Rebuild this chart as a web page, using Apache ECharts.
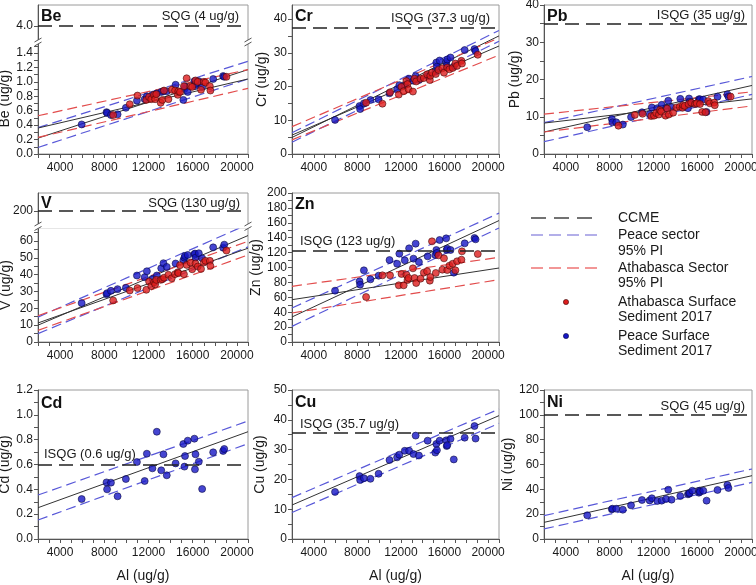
<!DOCTYPE html>
<html><head><meta charset="utf-8">
<script src="https://cdn.jsdelivr.net/npm/echarts@6/dist/echarts.min.js"></script>
<style>html,body{margin:0;padding:0;background:#fff}#c{width:756px;height:585px}</style>
</head><body><div id="c"></div>
<script>
// ---------------- data ----------------
const peaceAl = [5950, 8200, 8250, 8600, 9200, 9950, 10950, 11650, 11850, 12350, 12750, 13150, 13350, 13650, 14450, 15150, 15250, 15300, 15550, 16150, 16200, 16250, 16550, 16850, 17850, 18750, 18850];
const athaAl = [8800, 10300, 11000, 11800, 12050, 12250, 12500, 12600, 12700, 13100, 13250, 13400, 13800, 14100, 14400, 14650, 14700, 14850, 15200, 15450, 15800, 15950, 16250, 16450, 16750, 17000, 17150, 17550, 17600, 19050];

const peaceBe = [0.41, 0.58, 0.57, 0.54, 0.55, 0.64, 0.74, 0.76, 0.80, 0.82, 0.84, 0.86, 0.87, 0.87, 0.96, 0.75, 0.90, 0.94, 0.86, 1.01, 0.94, 0.97, 1.01, 0.93, 1.04, 1.08, 1.07];
const athaBe = [0.54, 0.69, 0.81, 0.75, 0.79, 0.76, 0.82, 0.76, 0.83, 0.71, 0.75, 0.88, 0.76, 0.89, 0.88, 0.82, 0.87, 0.86, 0.94, 1.05, 0.94, 0.93, 1.02, 1.00, 0.89, 1.00, 0.99, 0.94, 0.88, 1.07];
const peaceCr = [10.1, 14.2, 13.3, 15.0, 16.0, 16.2, 18.0, 19.2, 20.4, 20.4, 22.3, 21.7, 23.1, 21.9, 23.1, 24.4, 27.1, 25.9, 27.7, 27.3, 26.1, 28.0, 28.6, 25.9, 30.8, 31.1, 30.5];
const athaCr = [15.2, 14.9, 18.3, 17.6, 19.9, 18.6, 21.6, 20.7, 19.2, 18.5, 22.3, 21.5, 22.3, 22.5, 23.6, 21.9, 23.2, 24.1, 23.7, 24.9, 25.4, 24.1, 25.6, 25.1, 25.5, 26.8, 26.1, 27.6, 26.8, 29.4];
const peacePb = [7.2, 9.4, 8.5, 8.5, 7.9, 9.9, 11.2, 10.7, 12.5, 12.3, 13.2, 12.3, 14.3, 12.5, 14.8, 12.3, 14.9, 14.0, 13.6, 14.7, 14.3, 14.7, 14.6, 11.3, 15.4, 16.0, 15.4];
const athaPb = [7.6, 10.5, 10.8, 10.2, 10.3, 11.0, 10.6, 11.8, 11.4, 10.3, 12.2, 10.6, 11.1, 12.5, 12.7, 12.4, 13.1, 12.9, 13.4, 13.8, 13.4, 13.6, 13.4, 11.3, 11.2, 14.2, 13.6, 13.8, 13.1, 15.4];
const peaceV = [23.1, 28.4, 29.0, 30.4, 31.4, 32.2, 39.5, 38.5, 42.0, 37.5, 39.5, 43.8, 46.8, 44.6, 46.6, 48.5, 50.1, 51.1, 51.7, 52.1, 52.5, 50.1, 52.7, 49.7, 56.2, 56.0, 57.8];
const athaV = [24.7, 30.6, 32.0, 31.0, 35.9, 33.2, 35.5, 34.3, 36.9, 36.9, 37.3, 38.2, 39.9, 37.9, 40.3, 41.4, 40.9, 45.6, 40.3, 45.8, 47.2, 43.2, 46.6, 44.8, 43.4, 47.2, 48.2, 48.2, 45.2, 54.3];
const peaceZn = [68.9, 81.4, 77.0, 96.2, 84.1, 89.0, 110, 105, 118.6, 109.6, 125.7, 111.9, 132, 107.4, 115, 116.8, 123.5, 119.5, 136.9, 139.1, 123.5, 125.3, 123.5, 93.1, 132.4, 139.6, 137.8];
const athaZn = [60.4, 89.5, 89.5, 76.1, 91.3, 76.1, 90.4, 83.2, 85.9, 98.9, 85.9, 79.2, 85.0, 93.1, 94.9, 82.3, 87.2, 135.1, 92.6, 116.3, 97.1, 112.3, 96.6, 102.5, 105.0, 96.2, 108.3, 110.5, 121.7, 118.1];
const peaceCd = [0.322, 0.456, 0.40, 0.454, 0.344, 0.483, 0.62, 0.467, 0.687, 0.569, 0.864, 0.553, 0.682, 0.513, 0.609, 0.765, 0.583, 0.668, 0.792, 0.808, 0.561, 0.682, 0.623, 0.403, 0.698, 0.709, 0.725];
const peaceCu = [15.8, 21.1, 19.8, 20.4, 20.2, 21.9, 26.5, 27.4, 28.3, 29.6, 29.6, 28.5, 34.7, 28.0, 33.0, 29.0, 31.9, 29.8, 33.0, 33.1, 31.2, 31.5, 33.6, 26.7, 34.0, 37.9, 33.7];
const peaceNi = [19.1, 23.9, 24.4, 24.4, 23.6, 27.1, 31.4, 31.1, 32.8, 30.6, 30.9, 32.2, 39.7, 31.7, 34.6, 36.0, 36.5, 37.0, 38.9, 37.3, 38.9, 38.0, 38.9, 30.9, 39.5, 43.5, 41.1];

// fitted lines: values at x = 2000 and x = 21000
// order: Peace fit, Peace PI upper, Peace PI lower, Athabasca fit, Athabasca PI upper, Athabasca PI lower
const xEnds = [2000, 21000];
const beLines = [[0.22, 1.17], [0.365, 1.285], [0.09, 1.04], [0.36, 1.04], [0.53, 1.17], [0.23, 0.91]];
const crLines = [[4.9, 35.0], [6.3, 36.6], [3.5, 33.4], [5.6, 32.0], [8.1, 34.4], [4.2, 29.3]];
const pbLines = [[5.9, 18.4], [8.4, 20.8], [3.3, 16.0], [8.3, 14.8], [10.7, 16.7], [5.9, 12.9]];
const vLines = [[10.0, 63.2], [14.8, 69.9], [5.0, 56.5], [11.3, 55.7], [15.6, 59.8], [6.9, 51.7]];
const znLines = [[33.6, 163], [45.6, 173], [21, 153], [56.8, 99.3], [74.7, 113.6], [38.9, 83.7]];
const cdLines = [[0.252, 0.864], [0.354, 0.95], [0.153, 0.768]];
const cuLines = [[11.4, 41.4], [13.9, 43.6], [8.9, 38.8]];
const niLines = [[13.4, 51.0], [18.8, 56.4], [8.1, 45.6]];

// guideline values (as drawn) and their labels
const guideValues = [4.0, 37.3, 35, 200, 123, 0.6, 35.7, 100];
const guideTexts = ['SQG (4 ug/g)', 'ISQG (37.3 ug/g)', 'ISQG (35 ug/g)', 'SQG (130 ug/g)', 'ISQG (123 ug/g)', 'ISQG (0.6 ug/g)', 'ISQG (35.7 ug/g)', 'SQG (45 ug/g)'];
const panelNames = ['Be', 'Cr', 'Pb', 'V', 'Zn', 'Cd', 'Cu', 'Ni'];

// tick labels
const xTickLabels = [4000, 8000, 12000, 16000, 20000];
const xTicks = [2000, 3000, 4000, 5000, 6000, 7000, 8000, 9000, 10000, 11000, 12000, 13000, 14000, 15000, 16000, 17000, 18000, 19000, 20000, 21000];
const beYLabels = [0, 0.2, 0.4, 0.6, 0.8, 1.0, 1.2, 1.4];
const beUpperLabels = [4.0];
const crYLabels = [0, 10, 20, 30, 40];
const pbYLabels = [0, 10, 20, 30, 40];
const vYLabels = [0, 10, 20, 30, 40, 50, 60];
const vUpperLabels = [200];
const znYLabels = [0, 20, 40, 60, 80, 100, 120, 140, 160, 180, 200];
const cdYLabels = [0, 0.2, 0.4, 0.6, 0.8, 1.0, 1.2];
const cuYLabels = [0, 10, 20, 30, 40, 50];
const niYLabels = [0, 20, 40, 60, 80, 100, 120];

const legendItems = ['CCME', 'Peace sector', '95% PI', 'Athabasca Sector', '95% PI', 'Athabasca Surface', 'Sediment 2017', 'Peace Surface', 'Sediment 2017'];

// ---------------- layout / style ----------------
const FONT = "'Liberation Sans', Arial, Helvetica, sans-serif";
const BLUE_PT = '#1616c6', BLUE_BD = '#06063a';
const RED_PT = '#dd1d1d', RED_BD = '#3a0606';
const BLUE_LN = '#5858d8', RED_LN = '#e24c4c', BLACK_LN = '#333333';
const AXIS_C = '#555', FRAME_C = '#9a9a9a', TEXT_C = '#1a1a1a';

const panels = [
  {i:0, left:38, top:43.5, width:210, height:110.5, yMin:0, yMax:1.532, yLabels:beYLabels, dec:1, peace:peaceBe, atha:athaBe, lines:beLines, side:'end', dv:3.5, inset:9, nameGap:25, title:[41,9], xName:false,
   brk:{top:5, height:35.5, min:3.7, max:4.434, labels:beUpperLabels, dec:1}},
  {i:1, left:292, top:5, width:207, height:149, yMin:0, yMax:44.15, yLabels:crYLabels, dec:0, peace:peaceCr, atha:athaCr, lines:crLines, side:'end', dv:3.5, inset:9, nameGap:23, title:[295,9], xName:false},
  {i:2, left:544, top:5, width:208, height:149, yMin:0, yMax:40, yLabels:pbYLabels, dec:0, peace:peacePb, atha:athaPb, lines:pbLines, side:'end', dv:2, inset:7, nameGap:22, title:[547,9], xName:false},
  {i:3, left:38, top:228, width:210, height:114, yMin:0, yMax:67.7, yLabels:vYLabels, dec:0, peace:peaceV, atha:athaV, lines:vLines, side:'end', dv:1.5, inset:8, nameGap:25, title:[41,196], xName:false,
   brk:{top:193, height:31.5, min:170, max:240, labels:vUpperLabels, dec:0}},
  {i:4, left:292, top:193, width:207, height:149, yMin:0, yMax:200, yLabels:znYLabels, dec:0, peace:peaceZn, atha:athaZn, lines:znLines, side:'start', dv:2, inset:8, nameGap:25, title:[295,197], xName:false},
  {i:5, left:38, top:390, width:210, height:149, yMin:0, yMax:1.2, yLabels:cdYLabels, dec:1, peace:peaceCd, atha:null, lines:cdLines, side:'start', dv:3.5, inset:6, nameGap:20, title:[41,396], xName:true},
  {i:6, left:292, top:390, width:207, height:149, yMin:0, yMax:50, yLabels:cuYLabels, dec:0, peace:peaceCu, atha:null, lines:cuLines, side:'start', dv:2, inset:8, nameGap:25, title:[295,395], xName:true},
  {i:7, left:544, top:390, width:208, height:149, yMin:0, yMax:120, yLabels:niYLabels, dec:0, peace:peaceNi, atha:null, lines:niLines, side:'end', dv:1.5, inset:7, nameGap:25, title:[547,395], xName:true}
];

function halfTicks(labels, max) {
  const t = [];
  for (let k = 0; k < labels.length; k++) {
    t.push(labels[k]);
    const step = k + 1 < labels.length ? labels[k + 1] - labels[k] : labels[k] - labels[k - 1];
    const mid = labels[k] + step / 2;
    if (mid < max) t.push(mid);
  }
  return t;
}

const grids = [], xAxes = [], yAxes = [], series = [], titles = [];

function addAxes(gridOpt, xOpt, yOpt) {
  const gi = grids.length;
  grids.push(Object.assign({show:true, borderColor:FRAME_C, borderWidth:1, backgroundColor:'transparent', containLabel:false, outerBoundsMode:'none'}, gridOpt));
  xAxes.push(Object.assign({gridIndex:gi}, xOpt));
  yAxes.push(Object.assign({gridIndex:gi}, yOpt));
  return gi;
}

function xAxisOpt(showName) {
  return {
    type:'value', min:xEnds[0], max:xEnds[1],
    splitLine:{show:false},
    axisLine:{show:true, lineStyle:{color:AXIS_C, width:1}},
    axisTick:{show:true, length:4, inside:false, customValues:xTicks, lineStyle:{color:AXIS_C}},
    axisLabel:{show:true, customValues:xTickLabels, margin:8, fontSize:12, color:TEXT_C, fontFamily:FONT, formatter: v => String(v)},
    name: showName ? 'Al (ug/g)' : '', nameLocation:'middle', nameGap:30,
    nameTextStyle:{fontSize:14, color:TEXT_C, fontFamily:FONT}
  };
}

function yAxisOpt(min, max, labels, dec, name, nameGap) {
  return {
    type:'value', min:min, max:max,
    splitLine:{show:false},
    axisLine:{show:true, lineStyle:{color:AXIS_C, width:1}},
    axisTick:{show:true, length:4, inside:false, customValues:halfTicks(labels, max), lineStyle:{color:AXIS_C}},
    axisLabel:{show:true, customValues:labels, margin:5, fontSize:12, color:TEXT_C, fontFamily:FONT, formatter: v => Number(v).toFixed(dec)},
    name:name, nameLocation:'middle', nameGap:nameGap, nameRotate:90,
    nameTextStyle:{fontSize:14, color:TEXT_C, fontFamily:FONT}
  };
}

function guideSeries(gi, p) {
  const gv = guideValues[p.i];
  const ph = p.inset - p.dv;
  return {
    type:'line', xAxisIndex:gi, yAxisIndex:gi, silent:true, z:2,
    data:[[xEnds[0], gv], [xEnds[1], gv]], symbol:'none',
    lineStyle:{width:0, opacity:0},
    markLine:{
      silent:true, symbol:'none', animation:false,
      lineStyle:{color:'#222', width:1.5, type:[14, 7]},
      data:[{yAxis:gv}],
      label:{show:true, formatter:guideTexts[p.i], position: p.side === 'end' ? 'insideEndTop' : 'insideStartTop',
             distance:p.dv, padding: p.side === 'end' ? [0, ph, 0, 0] : [0, 0, 0, ph],
             fontSize:13, color:TEXT_C, fontFamily:FONT}
    }
  };
}

function fitSeries(gi, ends, color, dashed) {
  return {
    type:'line', xAxisIndex:gi, yAxisIndex:gi, silent:true, z:2, symbol:'none',
    data:[[xEnds[0], ends[0]], [xEnds[1], ends[1]]],
    lineStyle:{color:color, width: dashed ? 1.2 : 1, type: dashed ? [10, 5] : 'solid'}
  };
}

function scatterSeries(gi, al, vals, fill, border) {
  return {
    type:'scatter', xAxisIndex:gi, yAxisIndex:gi, z:4, silent:true,
    data: al.map((x, k) => [x, vals[k]]),
    symbol:'circle', symbolSize:7,
    itemStyle:{color:fill, borderColor:border, borderWidth:0.7}
  };
}

const graphics = [];

panels.forEach(p => {
  const name = panelNames[p.i] + ' (ug/g)';
  let guideGrid;
  if (p.brk) {
    const gu = addAxes({left:p.left, top:p.brk.top, width:p.width, height:p.brk.height},
      Object.assign(xAxisOpt(false), {show:false}),
      yAxisOpt(p.brk.min, p.brk.max, p.brk.labels, p.brk.dec, '', 0));
    yAxes[gu].axisTick.customValues = p.brk.labels;
    guideGrid = gu;
  }
  const gi = addAxes({left:p.left, top:p.top, width:p.width, height:p.height},
    xAxisOpt(p.xName), yAxisOpt(p.yMin, p.yMax, p.yLabels, p.dec, name, p.nameGap));
  if (!p.brk) guideGrid = gi;

  series.push(guideSeries(guideGrid, p));
  series.push(fitSeries(gi, p.lines[0], BLACK_LN, false));
  series.push(fitSeries(gi, p.lines[1], BLUE_LN, true));
  series.push(fitSeries(gi, p.lines[2], BLUE_LN, true));
  if (p.atha) {
    series.push(fitSeries(gi, p.lines[3], BLACK_LN, false));
    series.push(fitSeries(gi, p.lines[4], RED_LN, true));
    series.push(fitSeries(gi, p.lines[5], RED_LN, true));
  }
  series.push(scatterSeries(gi, peaceAl, p.peace, BLUE_PT, BLUE_BD));
  if (p.atha) series.push(scatterSeries(gi, athaAl, p.atha, RED_PT, RED_BD));

  titles.push({text:panelNames[p.i], left:p.title[0], top:p.title[1], padding:0, z:10,
    textStyle:{fontSize:16, fontWeight:'bold', color:'#111', fontFamily:FONT}});

  if (p.brk) {
    const y0 = p.brk.top + p.brk.height, y1 = p.top;
    graphics.push({type:'rect', z:100, shape:{x:p.left - 3, y:y0 - 0.6, width:p.width + 6, height:(y1 - y0) + 1.2}, style:{fill:'#fff'}});
    [p.left, p.left + p.width].forEach(xx => {
      graphics.push({type:'line', z:101, shape:{x1:xx - 3.5, y1:y0 + 1.5, x2:xx + 3.5, y2:y0 - 2.5}, style:{stroke:'#555', lineWidth:1}});
      graphics.push({type:'line', z:101, shape:{x1:xx - 3.5, y1:y1 + 2.5, x2:xx + 3.5, y2:y1 - 1.5}, style:{stroke:'#555', lineWidth:1}});
    });
  }
});

// legend (drawn as graphics)
const LX1 = 531, LX2 = 597, TX = 618;
const legendRows = [218, 235, 251, 268, 283, 302, 317, 336, 351];
graphics.push({type:'line', shape:{x1:LX1, y1:218, x2:LX2, y2:218}, style:{stroke:'#444', lineWidth:1.3, lineDash:[15, 8]}});
graphics.push({type:'line', shape:{x1:LX1, y1:235, x2:LX2, y2:235}, style:{stroke:'#9a95e2', lineWidth:1.5, lineDash:[12, 6]}});
graphics.push({type:'line', shape:{x1:LX1, y1:268, x2:LX2, y2:268}, style:{stroke:'#ee7474', lineWidth:1.5, lineDash:[12, 6]}});
graphics.push({type:'circle', shape:{cx:566, cy:302, r:2.6}, style:{fill:RED_PT, stroke:RED_BD, lineWidth:0.6}});
graphics.push({type:'circle', shape:{cx:566, cy:336, r:2.6}, style:{fill:BLUE_PT, stroke:BLUE_BD, lineWidth:0.6}});
legendItems.forEach((t, k) => {
  graphics.push({type:'text', x:TX, y:legendRows[k], style:{text:t, fontSize:14, fontFamily:FONT, fill:TEXT_C, verticalAlign:'middle', align:'left'}});
});

const chart = echarts.init(document.getElementById('c'), null, {renderer:'canvas', width:756, height:585});
chart.setOption({
  animation:false,
  backgroundColor:'#fff',
  title:titles,
  grid:grids,
  xAxis:xAxes,
  yAxis:yAxes,
  series:series,
  graphic:graphics
});
</script>
</body></html>
